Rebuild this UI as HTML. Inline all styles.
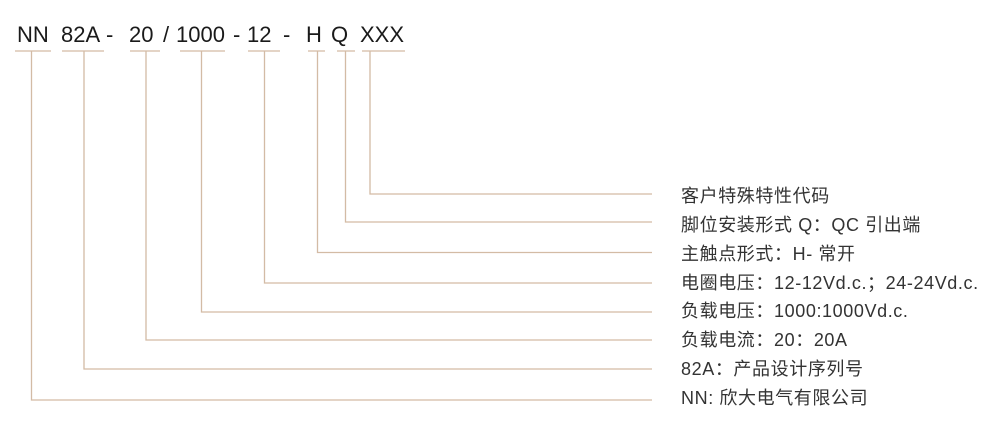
<!DOCTYPE html>
<html><head><meta charset="utf-8"><style>
html,body{margin:0;padding:0;background:#fff;width:990px;height:436px;overflow:hidden}
svg{display:block}
.t{font-family:"Liberation Sans",sans-serif;font-size:22px;fill:#1a1a1a}
.l{font-family:"Liberation Sans","Noto Sans CJK SC",sans-serif;font-size:18px;letter-spacing:0.6px;fill:#333}
</style></head><body>
<svg width="990" height="436" viewBox="0 0 990 436">
<g class="t">
<text x="17" y="42">NN</text>
<text x="61" y="42">82A</text>
<text x="106" y="42">-</text>
<text x="129" y="42">20</text>
<text x="163" y="42">/</text>
<text x="176" y="42">1000</text>
<text x="233" y="42">-</text>
<text x="247" y="42">12</text>
<text x="283" y="42">-</text>
<text x="306" y="42">H</text>
<text x="331" y="42">Q</text>
<text x="360" y="42">XXX</text>
</g>
<g stroke="#d3bba5" stroke-width="1.3" fill="none">
<line x1="15" y1="51" x2="51" y2="51"/>
<line x1="62" y1="51" x2="104" y2="51"/>
<line x1="130" y1="51" x2="160" y2="51"/>
<line x1="180" y1="51" x2="225" y2="51"/>
<line x1="248" y1="51" x2="280" y2="51"/>
<line x1="308" y1="51" x2="325" y2="51"/>
<line x1="337" y1="51" x2="355" y2="51"/>
<line x1="362" y1="51" x2="405" y2="51"/>
<polyline points="370,51 370,194 652,194"/>
<polyline points="345.5,51 345.5,222 652,222"/>
<polyline points="317.5,51 317.5,252.5 652,252.5"/>
<polyline points="264.5,51 264.5,283 652,283"/>
<polyline points="201.5,51 201.5,312 652,312"/>
<polyline points="146,51 146,340 652,340"/>
<polyline points="84,51 84,369 652,369"/>
<polyline points="31.5,51 31.5,400 652,400"/>
</g>
<g class="l">
<text x="681" y="202">客户特殊特性代码</text>
<text x="681" y="231">脚位安装形式 Q：QC 引出端</text>
<text x="681" y="260">主触点形式：H- 常开</text>
<text x="681" y="289">电圈电压：12-12Vd.c.；24-24Vd.c.</text>
<text x="681" y="317">负载电压：1000:1000Vd.c.</text>
<text x="681" y="346">负载电流：20：20A</text>
<text x="681" y="375">82A：产品设计序列号</text>
<text x="681" y="404">NN: 欣大电气有限公司</text>
</g>
</svg>
</body></html>
